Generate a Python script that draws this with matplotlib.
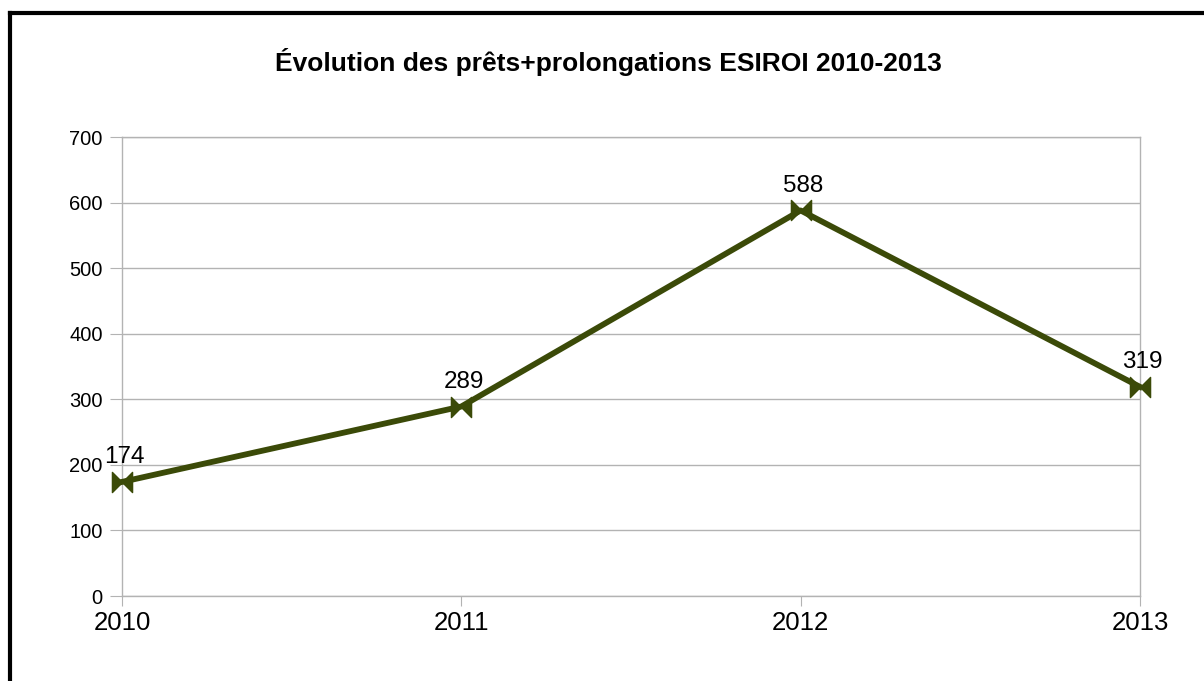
import matplotlib
matplotlib.use('Agg')
import matplotlib.pyplot as plt
from matplotlib.path import Path
from matplotlib.lines import Line2D

plt.rcParams['font.family'] = ['Liberation Sans', 'DejaVu Sans']

annees = ['2010', '2011', '2012', '2013']
prets = [174, 289, 588, 319]
yticks = [0, 100, 200, 300, 400, 500, 600, 700]
titre = "Évolution des prêts+prolongations ESIROI 2010-2013"

vert = '#3b4a08'
gris = '#b3b3b3'

# bowtie marker: two triangles meeting at the point
noeud = Path([(-1, -1), (-1, 1), (0, 0), (1, 1), (1, -1), (0, 0), (-1, -1)],
             [Path.MOVETO, Path.LINETO, Path.LINETO, Path.LINETO,
              Path.LINETO, Path.LINETO, Path.CLOSEPOLY])

fig = plt.figure(figsize=(12.04, 6.81), dpi=100)
ax = fig.add_axes([0.1013, 0.1248, 0.8455, 0.674])

x = list(range(len(annees)))
ax.plot(x, prets, color=vert, lw=4.2, marker=noeud, markersize=14.5,
        markerfacecolor=vert, markeredgecolor=vert, clip_on=False, zorder=3)

for xi, v in zip(x, prets):
    ax.annotate(str(v), (xi, v), xytext=(2, 10), textcoords='offset points',
                ha='center', va='bottom', fontsize=17.5, color='black')

ax.set_xlim(0, 3)
ax.set_ylim(0, 700)
ax.set_xticks(x)
ax.set_xticklabels(annees, fontsize=18.5)
ax.set_yticks(yticks)
ax.set_yticklabels([str(t) for t in yticks], fontsize=14.5)
ax.yaxis.grid(True, color=gris, lw=1)
ax.set_axisbelow(True)
for s in ax.spines.values():
    s.set_color(gris)
    s.set_linewidth(1)
ax.tick_params(axis='y', length=9, color=gris, pad=5)
ax.tick_params(axis='x', length=7, color=gris, pad=4)

fig.text(0.505, 0.909, titre, ha='center', va='center',
         fontsize=19, fontweight='bold', family=['Liberation Sans Narrow', 'Liberation Sans'])

# black frame around the chart
fig.add_artist(Line2D([10 / 1204, 10 / 1204], [0, 1 - 13 / 681], color='black', lw=3,
                      transform=fig.transFigure, solid_capstyle='projecting'))
fig.add_artist(Line2D([10 / 1204, 1], [1 - 13 / 681, 1 - 13 / 681], color='black', lw=3,
                      transform=fig.transFigure, solid_capstyle='projecting'))

fig.savefig('out.png', dpi=100)
